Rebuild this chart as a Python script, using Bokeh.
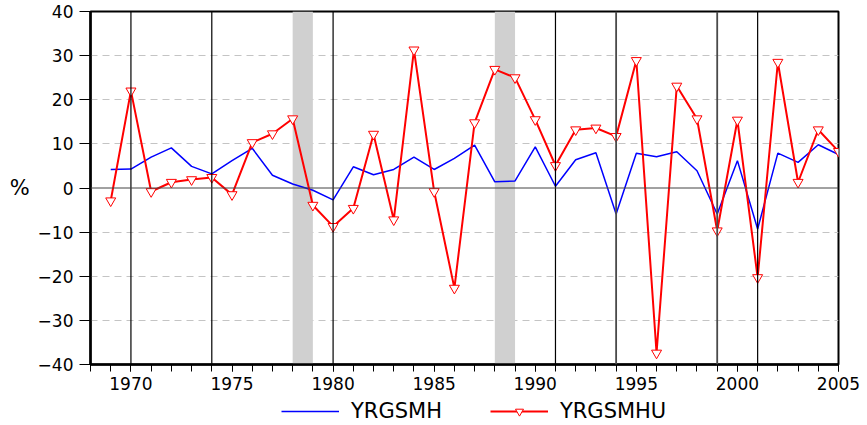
from bokeh.plotting import figure
from bokeh.layouts import column
from bokeh.models import Range1d, FixedTicker, Span, BoxAnnotation, Legend, LegendItem
from bokeh.embed import file_html
from bokeh.resources import INLINE

years = list(range(1969, 2006))
yrgsmh = [4.2, 4.3, 7.0, 9.1, 4.9, 3.2, 6.2, 9.0, 2.9, 0.9,
          -0.5, -2.7, 4.8, 3.0, 4.2, 7.0, 4.2, 6.7, 9.7, 1.4,
          1.6, 9.3, 0.4, 6.4, 8.0, -5.9, 7.9, 7.1, 8.2, 3.9,
          -5.9, 6.2, -9.3, 7.9, 5.8, 9.8, 7.6]
yrgsmhu = [-2.9, 22.0, -0.8, 1.3, 1.9, 2.4, -1.5, 10.3, 12.3, 15.7,
           -3.9, -8.7, -4.6, 12.2, -7.2, 31.3, -0.8, -22.7, 14.8, 26.9,
           25.0, 15.5, 5.1, 13.2, 13.6, 11.7, 28.9, -37.4, 23.1, 15.7,
           -9.7, 15.4, -20.3, 28.5, 1.3, 13.2, 8.3]
shaded_periods = [(1978, 1979), (1988, 1989)]
black_lines = [1970, 1974, 1980, 1991, 2001]
gray_lines = [1994, 1999]
x_major = [1970, 1975, 1980, 1985, 1990, 1995, 2000, 2005]
x_minor = list(range(1968, 2006))
y_ticks = [-40, -30, -20, -10, 0, 10, 20, 30, 40]

FONT = "DejaVu Sans"

p = figure(width=867, height=396, output_backend="svg", toolbar_location=None,
           x_range=Range1d(1968, 2005), y_range=Range1d(-40, 40),
           min_border_left=90, min_border_right=29, min_border_top=11, min_border_bottom=32)

p.background_fill_color = "white"
p.outline_line_color = "black"
p.outline_line_width = 2

# grid
p.xgrid.visible = False
p.ygrid.ticker = FixedTicker(ticks=[-30, -20, -10, 10, 20, 30])
p.ygrid.grid_line_color = "#c4c4c4"
p.ygrid.grid_line_dash = "7 5"
p.ygrid.grid_line_width = 1

# axes
p.xaxis.ticker = FixedTicker(ticks=x_major, minor_ticks=x_minor)
p.yaxis.ticker = FixedTicker(ticks=y_ticks)
for ax in (p.xaxis[0], p.yaxis[0]):
    ax.axis_line_color = "black"
    ax.axis_line_width = 2.5
    ax.major_tick_line_color = "black"
    ax.minor_tick_line_color = "black"
    ax.major_tick_in = 0
    ax.minor_tick_in = 0
    ax.major_label_text_font = FONT
    ax.major_label_text_font_size = "17px"
    ax.major_label_text_color = "black"
p.xaxis.major_tick_out = 7
p.xaxis.minor_tick_out = 7
p.xaxis.major_label_standoff = 5
p.yaxis.major_tick_out = 11
p.yaxis.minor_tick_out = 0
p.yaxis.major_label_standoff = 6
p.yaxis.axis_label = "%"
p.yaxis.axis_label_orientation = "horizontal"
p.yaxis.axis_label_text_font = FONT
p.yaxis.axis_label_text_font_size = "21px"
p.yaxis.axis_label_text_font_style = "normal"
p.yaxis.axis_label_text_color = "black"
p.yaxis.axis_label_standoff = 5

# shaded periods
for a, b in shaded_periods:
    p.add_layout(BoxAnnotation(left=a, right=b, fill_color="#d0d0d0", fill_alpha=1.0,
                               line_alpha=0, level="underlay"))

# vertical lines
for yr in black_lines:
    p.add_layout(Span(location=yr, dimension="height", line_color="black", line_width=1.2))
for yr in gray_lines:
    p.add_layout(Span(location=yr, dimension="height", line_color="#4a4a4a", line_width=1.8))

# zero line
p.add_layout(Span(location=0, dimension="width", line_color="#444444", line_width=1))

p.line(years, yrgsmh, line_color="#0000ff", line_width=1.5)
p.line(years, yrgsmhu, line_color="#ff0000", line_width=2)
p.scatter(years, yrgsmhu, marker="inverted_triangle", size=10,
          fill_color="white", line_color="#ff0000", line_width=1)

# legend strip below the chart
q = figure(width=867, height=29, output_backend="svg", toolbar_location=None,
           x_range=Range1d(0, 1), y_range=Range1d(0, 1),
           x_axis_location=None, y_axis_location=None,
           min_border=0, outline_line_color=None)
q.grid.visible = False
lb = q.line(x=[-5, -4], y=[-5, -4], line_color="#0000ff", line_width=1.5)
lr = q.line(x=[-5, -4], y=[-5, -4], line_color="#ff0000", line_width=2)
lm = q.scatter(x=[-5], y=[-5], marker="inverted_triangle", size=10,
               fill_color="white", line_color="#ff0000", line_width=1)
legend = Legend(items=[LegendItem(label="YRGSMH", renderers=[lb]),
                       LegendItem(label="YRGSMHU", renderers=[lr, lm])],
                location=(191, 2), orientation="horizontal",
                glyph_width=58, glyph_height=20, label_standoff=12, spacing=48,
                padding=0, margin=0, border_line_color=None, background_fill_alpha=0,
                label_text_font=FONT, label_text_font_size="21px",
                label_text_color="black")
q.add_layout(legend, "center")

layout = column(p, q, spacing=0)
open("out.html", "w").write(file_html(layout, INLINE))
